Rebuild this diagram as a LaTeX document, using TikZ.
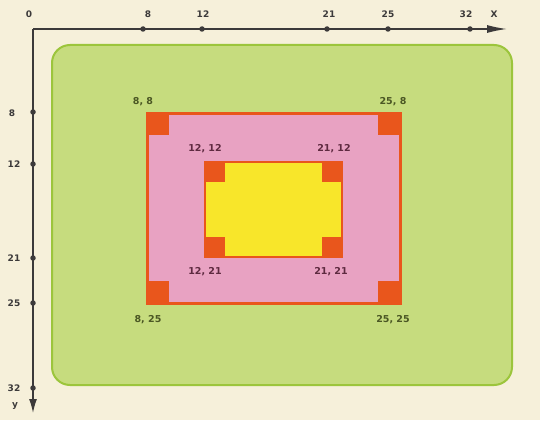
\documentclass[tikz,border=0pt]{standalone}
\usepackage{fontspec}
\setmainfont{DejaVu Sans}
\usetikzlibrary{arrows.meta}
\definecolor{cream}{HTML}{F6F0DA}
\definecolor{greenfill}{HTML}{C6DC7E}
\definecolor{greenedge}{HTML}{9CC53C}
\definecolor{pinkfill}{HTML}{E8A2C2}
\definecolor{orng}{HTML}{E9561C}
\definecolor{yel}{HTML}{F8E62A}
\definecolor{axiscol}{HTML}{3C3A3A}
\definecolor{lblgreen}{HTML}{4B5724}
\definecolor{lblpink}{HTML}{5E2A40}
\tikzset{
  axisline/.style={draw=axiscol, line width=1.4pt},
  tickdot/.style={circle, fill=axiscol, inner sep=0pt, minimum size=5.5pt},
  axlbl/.style={font=\bfseries\fontsize{9}{10}\selectfont, text=axiscol, inner sep=0pt},
  glbl/.style={font=\bfseries\fontsize{9.5}{10}\selectfont, text=lblgreen, inner sep=0pt},
  plbl/.style={font=\bfseries\fontsize{9.5}{10}\selectfont, text=lblpink, inner sep=0pt},
  csq/.style={fill=orng},
}
\begin{document}
\begin{tikzpicture}[x=1pt,y=-1pt]
\fill[cream] (0,0) rectangle (540,420);
\useasboundingbox (0,0) rectangle (540,420);
% green board
\draw[fill=greenfill, draw=greenedge, line width=2pt, rounded corners=18pt] (52,45) rectangle (512,385);
% pink frame
\draw[fill=pinkfill, draw=orng, line width=3pt] (147,113) rectangle (400,303);
\fill[csq] (147,113) rectangle (169,135);
\fill[csq] (378,113) rectangle (400,135);
\fill[csq] (147,281) rectangle (169,303);
\fill[csq] (378,281) rectangle (400,303);
% yellow frame
\draw[fill=yel, draw=orng, line width=2pt] (205,162) rectangle (342,257);
\fill[csq] (205,162) rectangle (225,182);
\fill[csq] (322,162) rectangle (342,182);
\fill[csq] (205,237) rectangle (225,257);
\fill[csq] (322,237) rectangle (342,257);
% axes
\coordinate (O) at (33,29);
\coordinate (XE) at (507,29);
\coordinate (YE) at (33,413);
\draw[axisline, -{Latex[length=20pt,width=8pt]}] (O) -- (XE);
\draw[axisline, -{Latex[length=14pt,width=8pt]}] (O) -- (YE);
% x ticks
\node[tickdot] (x8) at (143,29) {};
\node[tickdot] (x12) at (202,29) {};
\node[tickdot] (x21) at (327,29) {};
\node[tickdot] (x25) at (388,29) {};
\node[tickdot] (x32) at (470,29) {};
\node[axlbl] (l0) at (29,14) {0};
\node[axlbl] (lx8) at (148,14) {8};
\node[axlbl] (lx12) at (203,14) {12};
\node[axlbl] (lx21) at (329,14) {21};
\node[axlbl] (lx25) at (388,14) {25};
\node[axlbl] (lx32) at (466,14) {32};
\node[axlbl] (lX) at (494,14) {X};
% y ticks
\node[tickdot] (y8) at (33,112) {};
\node[tickdot] (y12) at (33,164) {};
\node[tickdot] (y21) at (33,258) {};
\node[tickdot] (y25) at (33,303) {};
\node[tickdot] (y32) at (33,388) {};
\node[axlbl] (ly8) at (12,113) {8};
\node[axlbl] (ly12) at (14,164) {12};
\node[axlbl] (ly21) at (14,258) {21};
\node[axlbl] (ly25) at (14,303) {25};
\node[axlbl] (ly32) at (14,388) {32};
\node[axlbl] (ly) at (15,406) {y};
% corner labels
\node[glbl] (c88) at (143,102) {8, 8};
\node[glbl] (c258) at (393,102) {25, 8};
\node[glbl] (c825) at (148,320) {8, 25};
\node[glbl] (c2525) at (393,320) {25, 25};
\node[plbl] (c1212) at (205,149) {12, 12};
\node[plbl] (c2112) at (334,149) {21, 12};
\node[plbl] (c1221) at (205,272) {12, 21};
\node[plbl] (c2121) at (331,272) {21, 21};
\end{tikzpicture}
\end{document}
